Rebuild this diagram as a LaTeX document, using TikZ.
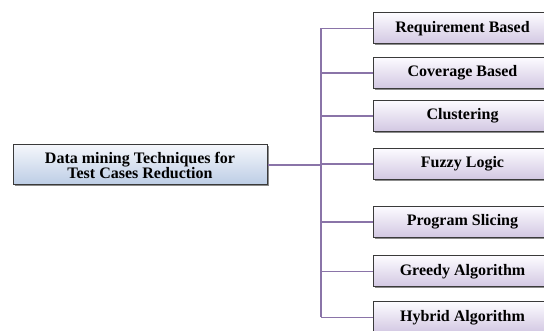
\documentclass[tikz,border=0pt]{standalone}
\usepackage{fontspec}
\setmainfont{Liberation Serif}
\usetikzlibrary{shadows}
\definecolor{linec}{HTML}{8A74A8}
\definecolor{lavtop}{HTML}{FCFBFF}
\definecolor{lavbot}{HTML}{D2C7E2}
\definecolor{bluetop}{HTML}{F4F6FB}
\definecolor{bluebot}{HTML}{BCCDE5}
\definecolor{boxborder}{HTML}{3A3A3A}
\tikzset{
  leaf/.style={draw=boxborder, line width=1pt, top color=lavtop, bottom color=lavbot,
    minimum width=178pt, minimum height=31pt, inner sep=0pt, anchor=west,
    font=\bfseries\fontsize{16}{15}\selectfont,
    drop shadow={shadow xshift=1.5pt, shadow yshift=-1.5pt, opacity=0.45, fill=black}},
  rootbox/.style={draw=boxborder, line width=1pt, top color=bluetop, bottom color=bluebot,
    minimum width=254pt, minimum height=40pt, inner sep=0pt, align=center,
    font=\bfseries\fontsize{16}{15}\selectfont,
    drop shadow={shadow xshift=1.5pt, shadow yshift=-1.5pt, opacity=0.45, fill=black}},
  conn/.style={draw=linec, line width=1.2pt}
}
\begin{document}
\begin{tikzpicture}[x=1pt,y=1pt]
\useasboundingbox (0,0) rectangle (544,-331);
\clip (0,0) rectangle (544,-331);
\fill[white] (0,0) rectangle (544,-331);
\node[rootbox] (root) at (140,-165) {Data mining Techniques for\\Test Cases Reduction};
\node[leaf] (b1) at (373,-28.5) {Requirement Based};
\node[leaf] (b2) at (373,-73) {Coverage Based};
\node[leaf] (b3) at (373,-116) {Clustering};
\node[leaf] (b4) at (373,-164) {Fuzzy Logic};
\node[leaf] (b5) at (373,-222) {Program Slicing};
\node[leaf] (b6) at (373,-271.5) {Greedy Algorithm};
\node[leaf] (b7) at (373,-317.5) {Hybrid Algorithm};
\coordinate (ttop) at (321,-28.5);
\coordinate (tbot) at (321,-317.5);
\draw[conn] (ttop) -- (tbot);
\draw[conn] (root.east) -- (root.east -| ttop);
\foreach \b in {b1,b2,b3,b4,b5,b6,b7}{
  \draw[conn] (\b.west -| ttop) -- (\b.west);
}
\end{tikzpicture}
\end{document}
